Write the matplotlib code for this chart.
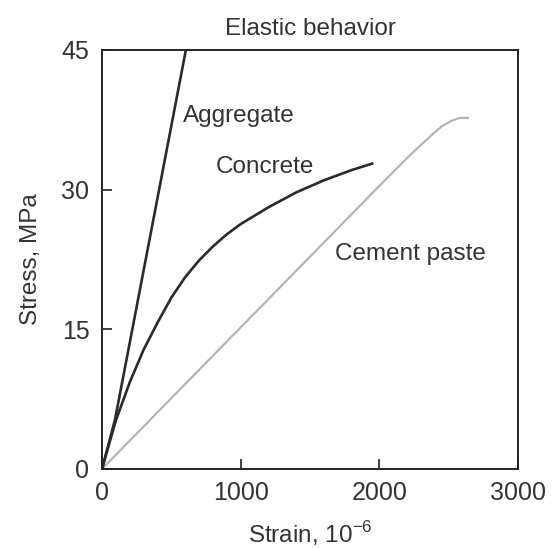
import matplotlib
matplotlib.use("Agg")
import matplotlib.pyplot as plt

plt.rcParams['font.family'] = ['Liberation Sans', 'DejaVu Sans']

# 讀圖估計的數據 (strain 10^-6, stress MPa)
aggregate_strain = [0, 94, 605]
aggregate_stress = [0, 5.3, 45]

concrete_strain = [0, 100, 200, 300, 400, 500, 600, 700, 800, 900, 1000,
                   1200, 1400, 1600, 1800, 1950]
concrete_stress = [0, 5.2, 9.3, 12.8, 15.7, 18.4, 20.6, 22.4, 23.9, 25.2, 26.3,
                   28.1, 29.7, 31.0, 32.1, 32.8]

paste_strain = [0, 1000, 2000, 2100, 2200, 2300, 2380, 2450, 2520, 2580, 2640]
paste_stress = [0, 15.2, 30.4, 31.9, 33.4, 34.8, 35.9, 36.8, 37.4, 37.7, 37.7]

curve_labels = ["Aggregate", "Concrete", "Cement paste"]
label_pos = [(584, 37.9), (822, 32.4), (1680, 23.1)]

x_ticks = [0, 1000, 2000, 3000]
y_ticks = [0, 15, 30, 45]

text_color = "#333333"

fig = plt.figure(figsize=(5.53, 5.48), dpi=100)
ax = fig.add_axes([0.1844, 0.1442, 0.7523, 0.7646])

ax.plot(paste_strain, paste_stress, color="#b4b4b4", lw=1.6,
        solid_capstyle="round", solid_joinstyle="round")
ax.plot(concrete_strain, concrete_stress, color="#2a2a2a", lw=1.9,
        solid_capstyle="round", solid_joinstyle="round")
ax.plot(aggregate_strain, aggregate_stress, color="#2a2a2a", lw=1.9,
        solid_capstyle="round", solid_joinstyle="round")

for name, (x, y) in zip(curve_labels, label_pos):
    ax.text(x, y, name, fontsize=17.5, color=text_color, ha="left", va="center")

ax.set_xlim(0, 3000)
ax.set_ylim(0, 45)
ax.set_xticks(x_ticks)
ax.set_yticks(y_ticks)
ax.tick_params(direction="in", length=7, width=1.2, labelsize=18, colors="#222222",
               labelcolor=text_color, pad=9)
for sp in ax.spines.values():
    sp.set_linewidth(1.4)
    sp.set_color("#222222")

ax.set_xlabel("Strain, 10$^{\\mathregular{-6}}$", fontsize=17.5, color=text_color, labelpad=10)
ax.set_ylabel("Stress, MPa", fontsize=17.5, color=text_color, labelpad=14)
ax.set_title("Elastic behavior", fontsize=17.5, color=text_color, pad=11)

fig.savefig("out.png", dpi=100)
